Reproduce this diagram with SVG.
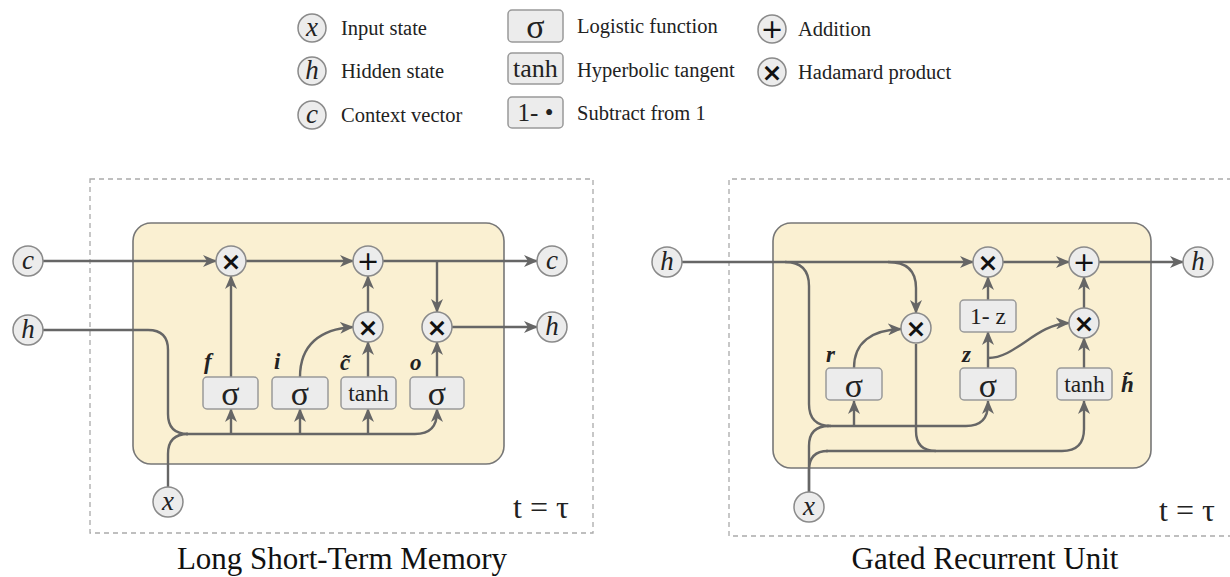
<svg xmlns="http://www.w3.org/2000/svg" width="1230" height="577" viewBox="0 0 1230 577">
<style>
.ln{fill:none;stroke:#666;stroke-width:2.4}
.arr{marker-end:url(#ah)}
.nc{fill:#ececec;stroke:#8a8a8a;stroke-width:1.5}
.bx{fill:#ececec;stroke:#999;stroke-width:1.5}
.cell{fill:#faf0d2;stroke:#777;stroke-width:1.6}
.frame{fill:none;stroke:#aaa;stroke-width:1.3;stroke-dasharray:5 4}
.var{font-family:"Liberation Serif",serif;font-style:italic;font-size:27px;fill:#222;text-anchor:middle;dominant-baseline:central}
.op{font-family:"DejaVu Sans",sans-serif;font-weight:bold;font-size:25px;fill:#111;text-anchor:middle;dominant-baseline:central}
.pl{font-family:"DejaVu Sans",sans-serif;font-size:27px;fill:#111;text-anchor:middle;dominant-baseline:central}
.sg{font-family:"Liberation Serif",serif;font-size:34px;fill:#222;text-anchor:middle;dominant-baseline:central}
.fn{font-family:"Liberation Serif",serif;font-size:23.5px;fill:#222;text-anchor:middle;dominant-baseline:central}
.lg{font-family:"Liberation Serif",serif;font-size:20.5px;fill:#222}
.lb{font-family:"Liberation Serif",serif;font-style:italic;font-weight:bold;font-size:23px;fill:#222}
.tt{font-family:"Liberation Serif",serif;font-size:32px;fill:#222}
.ti{font-family:"Liberation Serif",serif;font-size:31px;fill:#111;text-anchor:middle}
</style>
<defs>
<marker id="ah" markerUnits="userSpaceOnUse" markerWidth="14" markerHeight="12" viewBox="0 0 14 12" refX="13" refY="6" orient="auto">
<path d="M0,0 L14,6 L0,12 L4,6 z" fill="#666"/>
</marker>
</defs>
<rect width="1230" height="577" fill="#fff"/>

<!-- Legend -->
<g id="legend">
<g id="lg-x"><circle class="nc" cx="312" cy="28" r="14"/><text class="var" x="312" y="27">x</text><text class="lg" x="341" y="35">Input state</text></g>
<g id="lg-h"><circle class="nc" cx="312" cy="71" r="14"/><text class="var" x="312" y="70">h</text><text class="lg" x="341" y="78">Hidden state</text></g>
<g id="lg-c"><circle class="nc" cx="312" cy="115" r="14"/><text class="var" x="312" y="114">c</text><text class="lg" x="341" y="122">Context vector</text></g>
<g id="lg-sig"><rect class="bx" x="508" y="10" width="55" height="32" rx="4"/><text class="sg" x="535.5" y="26">σ</text><text class="lg" x="577" y="33">Logistic function</text></g>
<g id="lg-tanh"><rect class="bx" x="508" y="53" width="55" height="31" rx="4"/><text class="fn" x="535.5" y="68" style="font-size:26px">tanh</text><text class="lg" x="577" y="77">Hyperbolic tangent</text></g>
<g id="lg-sub"><rect class="bx" x="508" y="97" width="55" height="31" rx="4"/><text class="fn" x="535.5" y="112" style="font-size:25px">1- •</text><text class="lg" x="577" y="120">Subtract from 1</text></g>
<g id="lg-add"><circle class="nc" cx="772" cy="29" r="14"/><text class="pl" x="772" y="28">+</text><text class="lg" x="798" y="36">Addition</text></g>
<g id="lg-mul"><circle class="nc" cx="772" cy="72" r="14"/><text class="op" x="772" y="72">×</text><text class="lg" x="798" y="79">Hadamard product</text></g>
</g>

<!-- LSTM -->
<g id="lstm-frame"><rect class="frame" x="90" y="179" width="503" height="354"/></g>
<g id="lstm-cell"><rect class="cell" x="133" y="223" width="371" height="241" rx="18"/></g>

<g id="lstm-connectors">
<path class="ln arr" d="M43,261 H216"/>
<path class="ln arr" d="M246,261 H353"/>
<path class="ln arr" d="M383,261 H537"/>
<path class="ln arr" d="M437,261 V312"/>
<path class="ln arr" d="M368,312 V276"/>
<path class="ln arr" d="M452,327 H537"/>
<path class="ln arr" d="M231,377 V276"/>
<path class="ln arr" d="M300,377 C300,345 320,329 353,327"/>
<path class="ln arr" d="M368,377 V342"/>
<path class="ln arr" d="M437,377 V342"/>
<path class="ln" d="M43,330 H148 Q168,330 168,350 V414 Q168,434 188,434"/>
<path class="ln" d="M168,487 V454 Q168,434 188,434"/>
<path class="ln arr" d="M186,434 H415 Q437,434 437,412 V409"/>
<path class="ln arr" d="M231,434 V409"/>
<path class="ln arr" d="M300,434 V409"/>
<path class="ln arr" d="M368,434 V409"/>
</g>

<g id="lstm-c-in"><circle class="nc" cx="28" cy="261" r="15"/><text class="var" x="28" y="260">c</text></g>
<g id="lstm-h-in"><circle class="nc" cx="28" cy="330" r="15"/><text class="var" x="28" y="329">h</text></g>
<g id="lstm-x-in"><circle class="nc" cx="168" cy="502" r="15"/><text class="var" x="168" y="501">x</text></g>
<g id="lstm-c-out"><circle class="nc" cx="552" cy="261" r="15"/><text class="var" x="552" y="260">c</text></g>
<g id="lstm-h-out"><circle class="nc" cx="552" cy="327" r="15"/><text class="var" x="552" y="326">h</text></g>
<g id="lstm-mul-f"><circle class="nc" cx="231" cy="261" r="15"/><text class="op" x="231" y="261">×</text></g>
<g id="lstm-add"><circle class="nc" cx="368" cy="261" r="15"/><text class="pl" x="368" y="260">+</text></g>
<g id="lstm-mul-i"><circle class="nc" cx="368" cy="327" r="15"/><text class="op" x="368" y="327">×</text></g>
<g id="lstm-mul-o"><circle class="nc" cx="437" cy="327" r="15"/><text class="op" x="437" y="327">×</text></g>
<g id="lstm-sig-f"><rect class="bx" x="203" y="377" width="55" height="32" rx="4"/><text class="sg" x="230.5" y="393">σ</text><text class="lb" x="204" y="369">f</text></g>
<g id="lstm-sig-i"><rect class="bx" x="272" y="377" width="56" height="32" rx="4"/><text class="sg" x="300" y="393">σ</text><text class="lb" x="274" y="369">i</text></g>
<g id="lstm-tanh"><rect class="bx" x="341" y="377" width="55" height="32" rx="4"/><text class="fn" x="368.5" y="393">tanh</text><text class="lb" x="340" y="370">c&#771;</text></g>
<g id="lstm-sig-o"><rect class="bx" x="410" y="377" width="54" height="32" rx="4"/><text class="sg" x="437" y="393">σ</text><text class="lb" x="410" y="370">o</text></g>
<text class="tt" x="513" y="518">t = τ</text>
<text class="ti" x="342" y="569">Long Short-Term Memory</text>

<!-- GRU -->
<g id="gru-frame"><path class="frame" d="M1232,179 H729 V536 H1232"/></g>
<g id="gru-cell"><rect class="cell" x="773" y="223" width="378" height="245" rx="18"/></g>

<g id="gru-connectors">
<path class="ln arr" d="M682,262 H973"/>
<path class="ln arr" d="M1003,262 H1069"/>
<path class="ln arr" d="M1099,262 H1183"/>
<path class="ln" d="M785,262 Q809,262 809,286 V404 Q809,426 831,426"/>
<path class="ln arr" d="M888,262 Q916,262 916,288 V313"/>
<path class="ln" d="M809,492 V446 Q809,426 829,426"/>
<path class="ln arr" d="M827,426 H966 Q988,426 988,404 V401"/>
<path class="ln arr" d="M854,426 V401"/>
<path class="ln arr" d="M854,368 C854,342 872,330 901,329"/>
<path class="ln" d="M916,344 V431 Q916,451 936,451"/>
<path class="ln" d="M809,492 V470 Q809,451 828,451"/>
<path class="ln arr" d="M826,451 H1062 Q1084,451 1084,429 V401"/>
<path class="ln arr" d="M988,368 V332"/>
<path class="ln arr" d="M988,300 V277"/>
<path class="ln arr" d="M988,358 C1016,358 1036,324 1069,323"/>
<path class="ln arr" d="M1084,368 V338"/>
<path class="ln arr" d="M1084,308 V277"/>
</g>

<g id="gru-h-in"><circle class="nc" cx="667" cy="262" r="15"/><text class="var" x="667" y="261">h</text></g>
<g id="gru-x-in"><circle class="nc" cx="809" cy="507" r="15"/><text class="var" x="809" y="506">x</text></g>
<g id="gru-h-out"><circle class="nc" cx="1198" cy="262" r="15"/><text class="var" x="1198" y="261">h</text></g>
<g id="gru-mul-r"><circle class="nc" cx="916" cy="328" r="15"/><text class="op" x="916" y="328">×</text></g>
<g id="gru-mul-top"><circle class="nc" cx="988" cy="262" r="15"/><text class="op" x="988" y="262">×</text></g>
<g id="gru-add"><circle class="nc" cx="1084" cy="262" r="15"/><text class="pl" x="1084" y="261">+</text></g>
<g id="gru-mul-z"><circle class="nc" cx="1084" cy="323" r="15"/><text class="op" x="1084" y="323">×</text></g>
<g id="gru-sig-r"><rect class="bx" x="826" y="368" width="56" height="32" rx="4"/><text class="sg" x="854" y="385">σ</text><text class="lb" x="826" y="362">r</text></g>
<g id="gru-sig-z"><rect class="bx" x="960" y="368" width="56" height="32" rx="4"/><text class="sg" x="988" y="385">σ</text><text class="lb" x="962" y="362">z</text></g>
<g id="gru-sub"><rect class="bx" x="960" y="300" width="56" height="32" rx="4"/><text class="fn" x="988" y="316">1- z</text></g>
<g id="gru-tanh"><rect class="bx" x="1057" y="368" width="55" height="32" rx="4"/><text class="fn" x="1084.5" y="384">tanh</text><text class="lb" x="1121" y="392">h&#771;</text></g>
<text class="tt" x="1159" y="521">t = τ</text>
<text class="ti" x="985" y="569">Gated Recurrent Unit</text>
</svg>
